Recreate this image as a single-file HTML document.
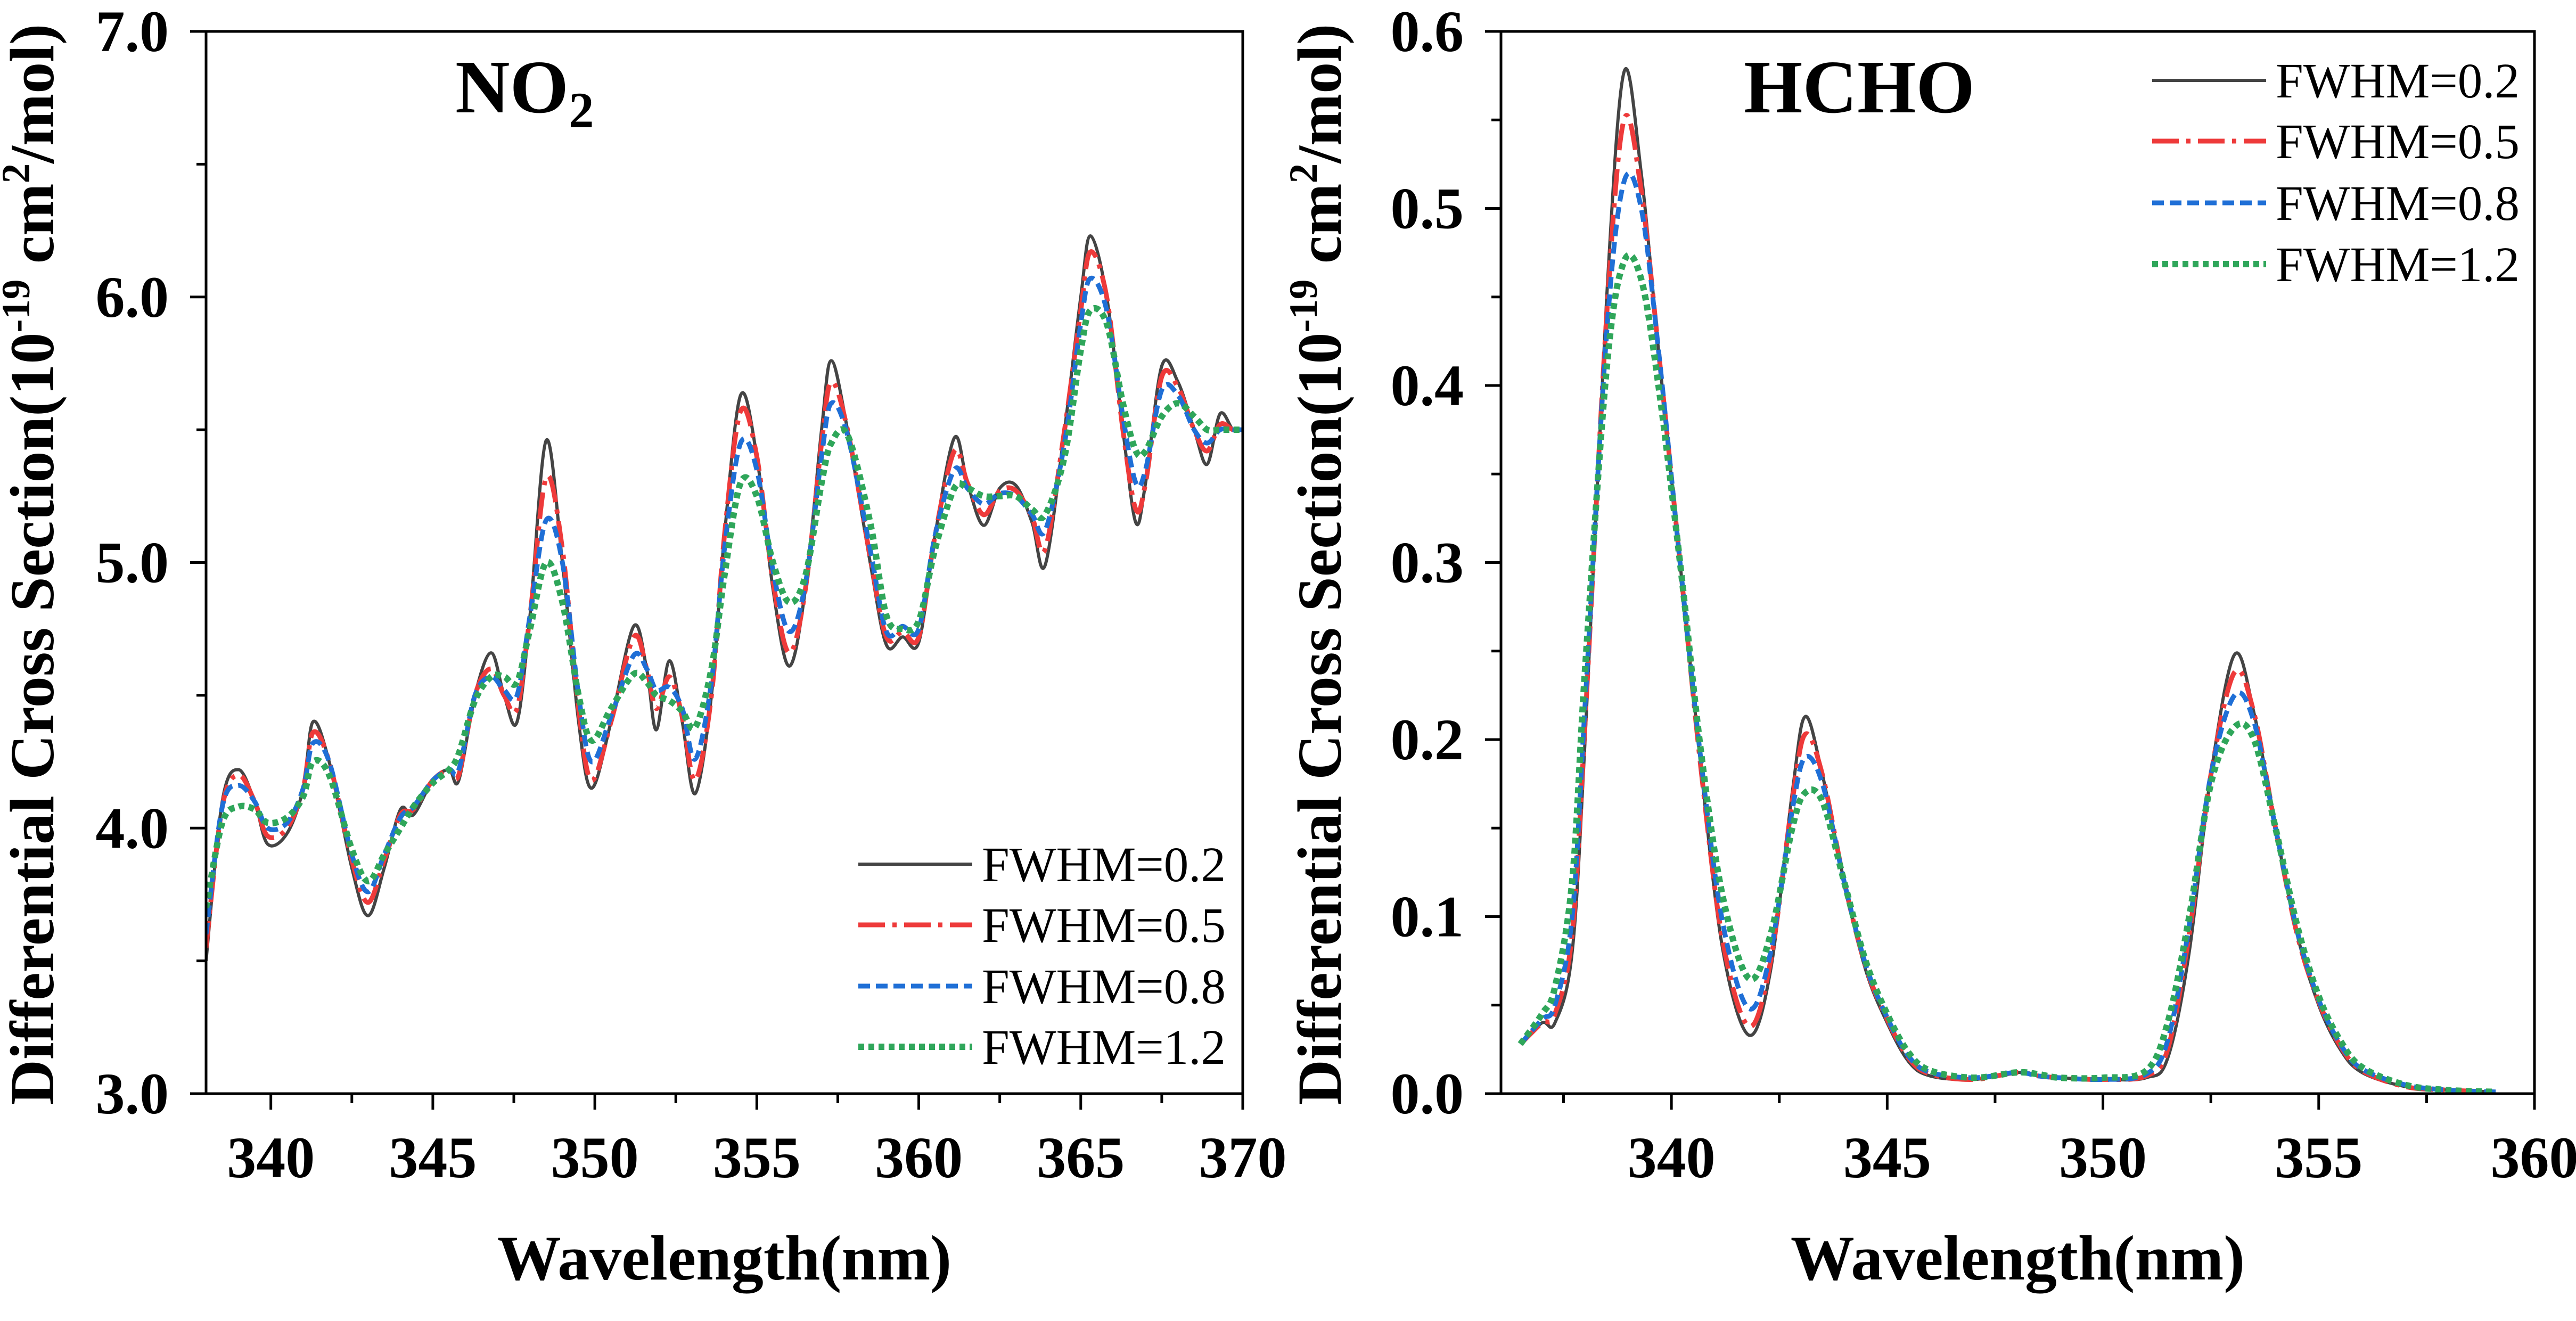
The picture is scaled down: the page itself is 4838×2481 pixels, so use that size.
<!DOCTYPE html>
<html><head><meta charset="utf-8"><style>
html,body{margin:0;padding:0;background:#fff;}
svg{display:block;font-family:"Liberation Serif",serif;}
</style></head><body>
<svg id="c" width="4838" height="2481" viewBox="0 0 4838 2481"></svg>
<script>
const no2X=[338,338.5,339,339.5,339.9,340.5,341,341.3,341.8,342.5,343,343.5,344,344.4,345,345.5,345.8,346.3,346.8,347.2,347.6,348,348.5,349,349.5,349.9,350.5,351.2,351.6,351.9,352.3,352.7,353.1,353.6,354,354.5,355,355.5,356,356.5,357,357.3,357.8,358.5,359,359.5,360,360.5,361.1,361.5,362,362.5,363,363.5,363.9,364.5,365,365.3,365.8,366.3,366.7,367,367.5,368,368.5,368.9,369.3,369.7,370];
const no2F02=[3.5,4.1,4.22,4.1,3.94,3.98,4.15,4.40,4.25,3.85,3.67,3.85,4.07,4.05,4.18,4.22,4.18,4.5,4.66,4.5,4.40,4.8,5.46,5.0,4.4,4.15,4.4,4.76,4.6,4.37,4.63,4.4,4.13,4.5,5.1,5.63,5.4,4.9,4.61,4.9,5.5,5.76,5.5,5.0,4.69,4.72,4.70,5.1,5.47,5.3,5.14,5.28,5.29,5.15,4.99,5.5,6.0,6.23,6.0,5.5,5.15,5.3,5.74,5.68,5.5,5.37,5.56,5.5,5.5];
const no2F05=[3.55,4.08,4.2,4.1,3.97,4.0,4.15,4.36,4.25,3.88,3.72,3.88,4.05,4.07,4.18,4.22,4.2,4.5,4.6,4.5,4.45,4.8,5.32,5.05,4.45,4.18,4.4,4.72,4.6,4.45,4.57,4.42,4.18,4.5,5.1,5.57,5.4,4.93,4.66,4.9,5.45,5.68,5.5,5.02,4.72,4.74,4.72,5.1,5.42,5.3,5.18,5.27,5.27,5.17,5.05,5.5,5.95,6.17,6.0,5.5,5.2,5.3,5.70,5.66,5.5,5.42,5.52,5.5,5.5];
const no2F08=[3.6,4.08,4.16,4.1,4.0,4.02,4.15,4.32,4.25,3.9,3.76,3.9,4.04,4.08,4.18,4.22,4.22,4.5,4.57,4.52,4.5,4.8,5.16,5.0,4.5,4.25,4.42,4.65,4.6,4.52,4.53,4.45,4.26,4.55,5.05,5.45,5.35,4.97,4.74,4.92,5.4,5.6,5.48,5.05,4.74,4.76,4.75,5.1,5.35,5.28,5.22,5.26,5.25,5.18,5.12,5.45,5.9,6.07,5.95,5.55,5.3,5.35,5.65,5.63,5.5,5.45,5.5,5.5,5.5];
const no2F12=[3.7,4.02,4.08,4.07,4.02,4.04,4.12,4.25,4.2,3.92,3.8,3.9,4.0,4.08,4.17,4.22,4.28,4.48,4.57,4.57,4.55,4.75,5.0,4.85,4.5,4.33,4.45,4.58,4.55,4.5,4.48,4.44,4.38,4.6,4.95,5.3,5.25,5.0,4.85,4.95,5.3,5.45,5.48,5.15,4.8,4.75,4.78,5.05,5.28,5.28,5.25,5.25,5.25,5.2,5.18,5.4,5.8,5.95,5.9,5.6,5.42,5.42,5.55,5.6,5.55,5.5,5.5,5.5,5.5];
const hchoX=[336.5,337,337.3,337.7,338,338.5,338.9,339.3,339.7,340.2,340.7,341.2,341.8,342.3,342.8,343.1,343.5,344,344.5,345,345.5,346,347,348,348.5,349,350,351,351.5,352,352.5,353.05,353.5,354,354.5,355,355.5,356,357,358,359.1];
const hchoF02=[0.028,0.04,0.04,0.08,0.2,0.45,0.577,0.52,0.42,0.3,0.18,0.08,0.033,0.07,0.17,0.213,0.18,0.12,0.07,0.04,0.018,0.01,0.008,0.012,0.01,0.009,0.008,0.009,0.02,0.08,0.18,0.248,0.215,0.15,0.09,0.05,0.025,0.012,0.004,0.002,0.001];
const hchoF05=[0.028,0.04,0.045,0.09,0.21,0.44,0.55,0.51,0.42,0.3,0.18,0.085,0.038,0.075,0.165,0.203,0.18,0.12,0.072,0.042,0.02,0.011,0.008,0.012,0.01,0.009,0.008,0.01,0.025,0.09,0.18,0.238,0.215,0.15,0.09,0.052,0.027,0.013,0.004,0.002,0.001];
const hchoF08=[0.028,0.042,0.05,0.1,0.22,0.43,0.515,0.5,0.42,0.3,0.185,0.095,0.048,0.08,0.16,0.19,0.175,0.12,0.073,0.043,0.021,0.012,0.009,0.012,0.01,0.009,0.008,0.011,0.03,0.095,0.18,0.225,0.21,0.15,0.092,0.053,0.028,0.014,0.005,0.002,0.001];
const hchoF12=[0.028,0.045,0.06,0.12,0.24,0.41,0.47,0.46,0.4,0.3,0.19,0.11,0.065,0.09,0.15,0.17,0.165,0.12,0.075,0.045,0.023,0.013,0.009,0.012,0.011,0.009,0.009,0.013,0.04,0.1,0.175,0.207,0.2,0.15,0.095,0.055,0.03,0.015,0.005,0.002,0.001];
const legendLabels=["FWHM=0.2","FWHM=0.5","FWHM=0.8","FWHM=1.2"];
const no2XTicks=[340,345,350,355,360,365,370];
const no2YTicks=[3.0,4.0,5.0,6.0,7.0];
const hchoXTicks=[340,345,350,355,360];
const hchoYTicks=[0.0,0.1,0.2,0.3,0.4,0.5,0.6];

const NS="http://www.w3.org/2000/svg";
const svg=document.getElementById('c');
function mk(tag,attrs,parent,text){const e=document.createElementNS(NS,tag);for(const k in attrs)e.setAttribute(k,attrs[k]);if(text!==undefined)e.textContent=text;(parent||svg).appendChild(e);return e;}
const styles=[
 {stroke:"#444",w:6,dash:""},
 {stroke:"#ee3a3a",w:9,dash:"50 14 8 14"},
 {stroke:"#1f6fd6",w:9,dash:"22 11"},
 {stroke:"#2fa65a",w:12,dash:"11 8"}];
function smooth(pts){let d="M"+pts[0][0]+","+pts[0][1];for(let i=0;i<pts.length-1;i++){const p0=pts[Math.max(0,i-1)],p1=pts[i],p2=pts[i+1],p3=pts[Math.min(pts.length-1,i+2)];const c1x=p1[0]+(p2[0]-p0[0])/6,c1y=p1[1]+(p2[1]-p0[1])/6,c2x=p2[0]-(p3[0]-p1[0])/6,c2y=p2[1]-(p3[1]-p1[1])/6;d+=` C${c1x.toFixed(1)},${c1y.toFixed(1)} ${c2x.toFixed(1)},${c2y.toFixed(1)} ${p2[0].toFixed(1)},${p2[1].toFixed(1)}`;}return d;}

function panel(o){
 const g=mk('g',{});
 
 
 const sx=v=>o.L+(v-o.xmin)/(o.xmax-o.xmin)*(o.R-o.L);
 const sy=v=>o.B-(v-o.ymin)/(o.ymax-o.ymin)*(o.B-o.T);
 const cp=mk('clipPath',{id:o.name+'-clip'},g);mk('rect',{x:o.L,y:o.T,width:o.R-o.L,height:o.B-o.T},cp);
 o.series.forEach((s,i)=>{const pts=o.xs.map((x,j)=>[sx(x),sy(s[j])]);const p=mk('path',{d:smooth(pts),fill:"none",stroke:styles[i].stroke,"stroke-width":styles[i].w,"stroke-dasharray":styles[i].dash,"clip-path":`url(#${o.name}-clip)`},g);
  
  });
 const fr=mk('rect',{x:o.L,y:o.T,width:o.R-o.L,height:o.B-o.T,fill:"none",stroke:"#000","stroke-width":5},g);
 
 const xa=mk('g',{},g);
 for(let v=Math.ceil(o.xmin/o.xminor)*o.xminor;v<=o.xmax+1e-9;v+=o.xminor){const X=sx(v);const major=o.xticks.some(t=>Math.abs(t-v)<1e-6);mk('line',{x1:X,x2:X,y1:o.B,y2:o.B+(major?30:18),stroke:"#000","stroke-width":5},xa);}
 o.xticks.forEach(t=>{const e=mk('text',{x:sx(t),y:o.B+157,"text-anchor":"middle","font-size":110,"font-weight":"bold"},xa,String(t));});
 const ya=mk('g',{},g);
 for(let v=o.ymin;v<=o.ymax+1e-9;v+=o.yminor){const Y=sy(v);const major=o.yticks.some(t=>Math.abs(t-v)<1e-6);mk('line',{x1:o.L,x2:o.L-(major?30:18),y1:Y,y2:Y,stroke:"#000","stroke-width":5},ya);}
 o.yticks.forEach(t=>{const e=mk('text',{x:o.L-70,y:sy(t)+37,"text-anchor":"end","font-size":110,"font-weight":"bold"},ya,t.toFixed(1));});
 const xt=mk('text',{x:(o.L+o.R)/2,y:2403,"text-anchor":"middle","font-size":120,"font-weight":"bold"},g,"Wavelength(nm)");
 
 const yt=mk('text',{x:0,y:0,"text-anchor":"middle","font-size":118,"font-weight":"bold",transform:`translate(${o.ytx},1060) rotate(-90)`},g);
 
 yt.innerHTML='Differential Cross Section(10<tspan dy="-45" font-size="75">-19</tspan><tspan dy="45"> cm</tspan><tspan dy="-45" font-size="75">2</tspan><tspan dy="45">/mol)</tspan>';
 const tt=mk('text',{x:o.titleX,y:211,"font-size":142,"font-weight":"bold"},g);
 
 tt.innerHTML=o.title;
 const lg=mk('g',{},g);
 legendLabels.forEach((lab,i)=>{const Y=o.legY[i];const en=mk('g',{},lg);
  mk('line',{x1:o.legX,x2:o.legX+214,y1:Y,y2:Y,stroke:styles[i].stroke,"stroke-width":styles[i].w,"stroke-dasharray":styles[i].dash},en);
  mk('text',{x:o.legX+232,y:Y+32,"font-size":93},en,lab);});
}
panel({name:"no2-panel",L:387,R:2334,T:59,B:2054,xmin:338,xmax:370,ymin:3,ymax:7,xminor:2.5,yminor:0.5,xticks:no2XTicks,yticks:no2YTicks,
 xs:no2X,series:[no2F02,no2F05,no2F08,no2F12],ytx:100,titleX:855,title:'NO<tspan dy="28" font-size="95">2</tspan>',legX:1612,legY:[1623,1737,1852,1966]});
panel({name:"hcho-panel",L:2819,R:4760,T:59,B:2054,xmin:336.05,xmax:360,ymin:0,ymax:0.6,xminor:2.5,yminor:0.05,xticks:hchoXTicks,yticks:hchoYTicks,
 xs:hchoX,series:[hchoF02,hchoF05,hchoF08,hchoF12],ytx:2518,titleX:3275,title:'HCHO',legX:4042,legY:[151,265,381,496]});
</script>
</body></html>
